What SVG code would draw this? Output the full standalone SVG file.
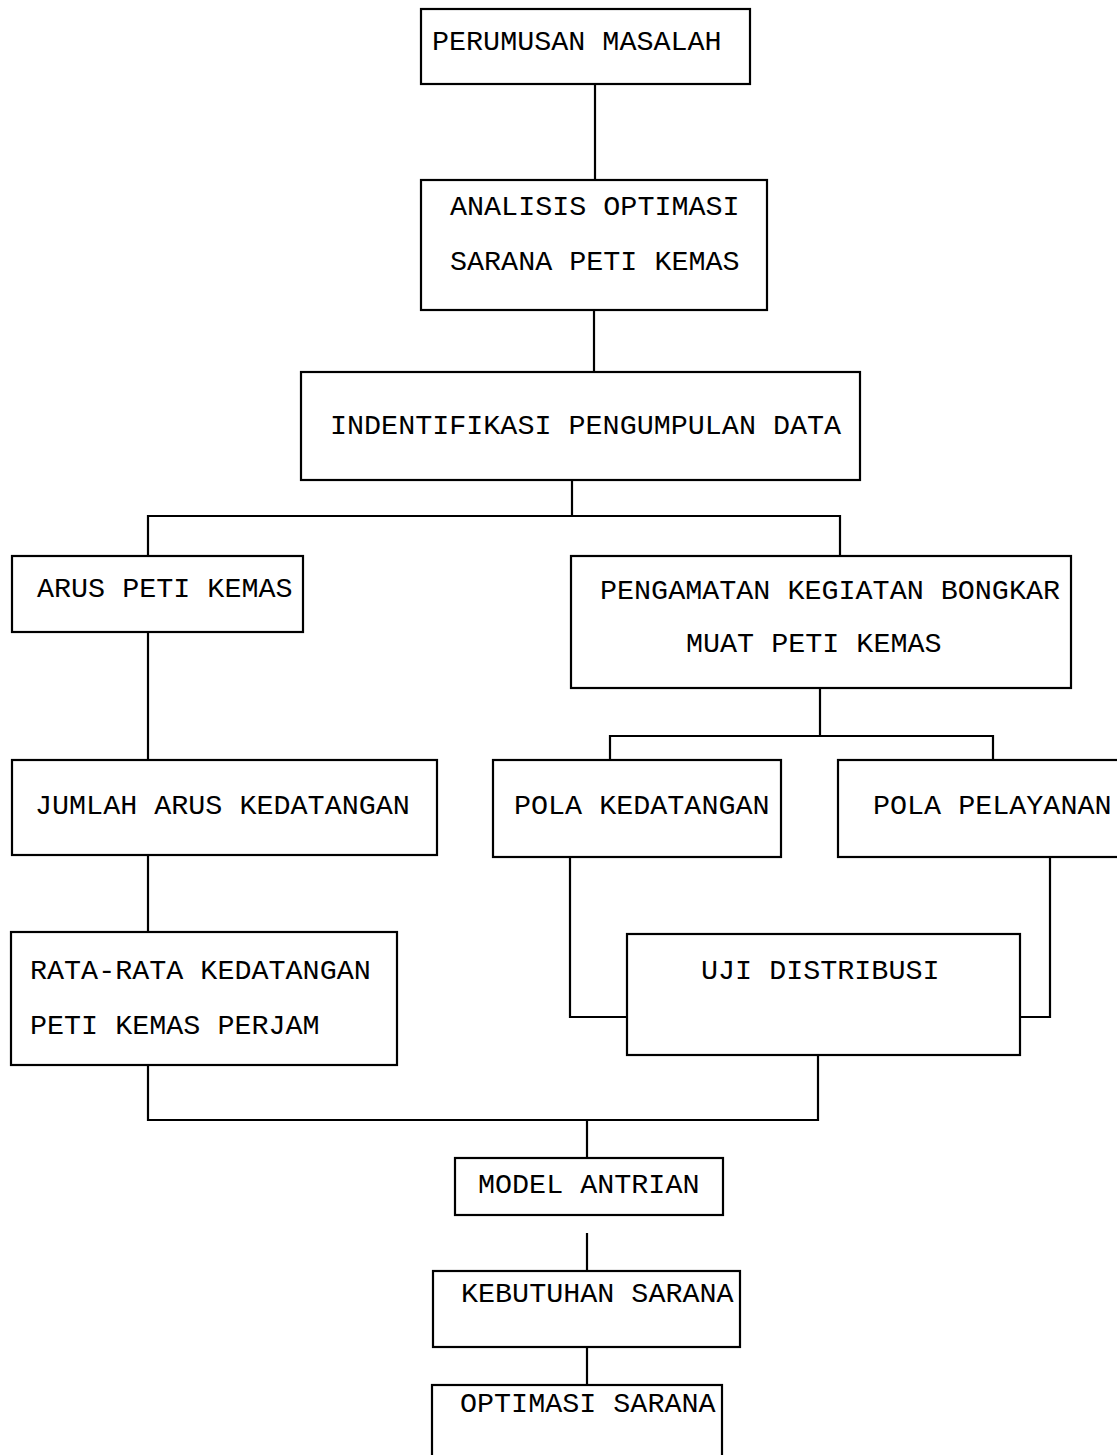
<svg xmlns="http://www.w3.org/2000/svg" width="1117" height="1455" viewBox="0 0 1117 1455">
<style>
rect.box{fill:#fff;stroke:#000;stroke-width:2.2}
.conn path{fill:none;stroke:#000;stroke-width:2.2}
text{font-family:"Liberation Mono","Courier New",monospace;font-size:28.4px;fill:#000}
</style>
<rect width="1117" height="1455" fill="#fff"/>
<g id="connectors" class="conn">
<path d="M595 84V180"/>
<path d="M594 310V372"/>
<path d="M572 480V516M148 556V516H840V556"/>
<path d="M148 632V760"/>
<path d="M820 688V736M610 760V736H993V760"/>
<path d="M148 855V932"/>
<path d="M570 857V1017H627"/>
<path d="M1050 857V1017H1020"/>
<path d="M148 1065V1120H818V1055"/>
<path d="M587 1120V1158"/>
<path d="M587 1233V1271"/>
<path d="M587 1347V1385"/>
</g>
<g id="n1"><rect class="box" x="421" y="9" width="329" height="75"/><text x="432" y="50">PERUMUSAN MASALAH</text></g>
<g id="n2"><rect class="box" x="421" y="180" width="346" height="130"/><text x="450" y="215">ANALISIS OPTIMASI</text><text x="450" y="270">SARANA PETI KEMAS</text></g>
<g id="n3"><rect class="box" x="301" y="372" width="559" height="108"/><text x="330" y="434">INDENTIFIKASI PENGUMPULAN DATA</text></g>
<g id="n4"><rect class="box" x="12" y="556" width="291" height="76"/><text x="37" y="597">ARUS PETI KEMAS</text></g>
<g id="n5"><rect class="box" x="571" y="556" width="500" height="132"/><text x="600" y="599">PENGAMATAN KEGIATAN BONGKAR</text><text x="686" y="652">MUAT PETI KEMAS</text></g>
<g id="n6"><rect class="box" x="12" y="760" width="425" height="95"/><text x="35" y="814">JUMLAH ARUS KEDATANGAN</text></g>
<g id="n7"><rect class="box" x="493" y="760" width="288" height="97"/><text x="514" y="814">POLA KEDATANGAN</text></g>
<g id="n8"><rect class="box" x="838" y="760" width="290" height="97"/><text x="873" y="814">POLA PELAYANAN</text></g>
<g id="n9"><rect class="box" x="11" y="932" width="386" height="133"/><text x="30" y="979">RATA-RATA KEDATANGAN</text><text x="30" y="1034">PETI KEMAS PERJAM</text></g>
<g id="n10"><rect class="box" x="627" y="934" width="393" height="121"/><text x="701" y="979">UJI DISTRIBUSI</text></g>
<g id="n11"><rect class="box" x="455" y="1158" width="268" height="57"/><text x="478" y="1193">MODEL ANTRIAN</text></g>
<g id="n12"><rect class="box" x="433" y="1271" width="307" height="76"/><text x="461" y="1302">KEBUTUHAN SARANA</text></g>
<g id="n13"><rect class="box" x="432" y="1385" width="290" height="90"/><text x="460" y="1412">OPTIMASI SARANA</text></g>
</svg>
